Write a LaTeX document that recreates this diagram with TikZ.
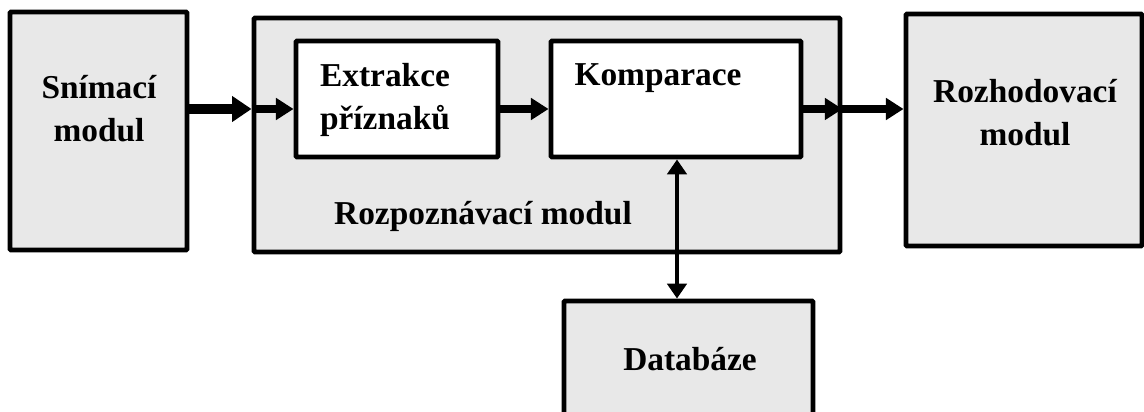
\documentclass[tikz,border=0pt]{standalone}
\usepackage{fontspec}
\setmainfont{Liberation Serif}
\usepackage{xcolor}
\usetikzlibrary{arrows.meta,fit}
\definecolor{boxgray}{HTML}{E8E8E8}

\begin{document}
\begin{tikzpicture}[x=0.02cm, y=-0.02cm,
        box/.style={draw=black, line width=2.8pt, fill=boxgray, inner sep=0pt, rounded corners=0.6pt},
        inbox/.style={box, fill=white},
        txt/.style={font=\fontsize{19}{24.4}\selectfont\bfseries, align=center, inner sep=0pt},
        bigarrow/.style={line width=5.5pt, -{Triangle[length=11pt, width=14pt]}},
        midarrow/.style={line width=4pt, -{Triangle[length=10pt, width=12pt]}},
        dblarrow/.style={line width=2.8pt, {Triangle[length=8.5pt, width=11pt]}-{Triangle[length=8.5pt, width=11pt]}}]
        \useasboundingbox (0,0) rectangle (1144,412);
        \coordinate (lvl) at (0,109);
        \coordinate (dbx) at (677,0);
        \node[box, fit={(10,12) (187,250)}] (snim) {};
        \node[box, fit={(254,18) (840,252)}] (rozp) {};
        \node[inbox, fit={(296,41) (498,157)}] (extr) {};
        \node[inbox, fit={(551,41) (801,157)}] (komp) {};
        \node[box, fit={(906,14) (1142,246)}] (rozh) {};
        \node[box, fit={(564,301) (813,430)}] (datab) {};
        \node[txt] (snimtxt) at (99,109) {Snímací\\modul};
        \node[txt] (extrtxt) at (385,100) {Extrakce\\příznaků};
        \node[txt] (komptxt) at (658,78) {Komparace};
        \node[txt] (rozptxt) at (483,216) {Rozpoznávací modul};
        \node[txt] (rozhtxt) at (1025,113) {Rozhodovací\\modul};
        \node[txt] (databtxt) at (690,359) {Databáze};
        \draw[bigarrow] (snim.east |- lvl) -- (rozp.west |- lvl);
        \draw[midarrow] (rozp.west |- lvl) -- (extr.west |- lvl);
        \draw[midarrow] (extr.east |- lvl) -- (komp.west |- lvl);
        \draw[midarrow] (komp.east |- lvl) -- (rozp.east |- lvl);
        \draw[midarrow] (rozp.east |- lvl) -- (rozh.west |- lvl);
        \draw[dblarrow] (komp.south -| dbx) -- (datab.north -| dbx);
    \end{tikzpicture}
\end{document}
